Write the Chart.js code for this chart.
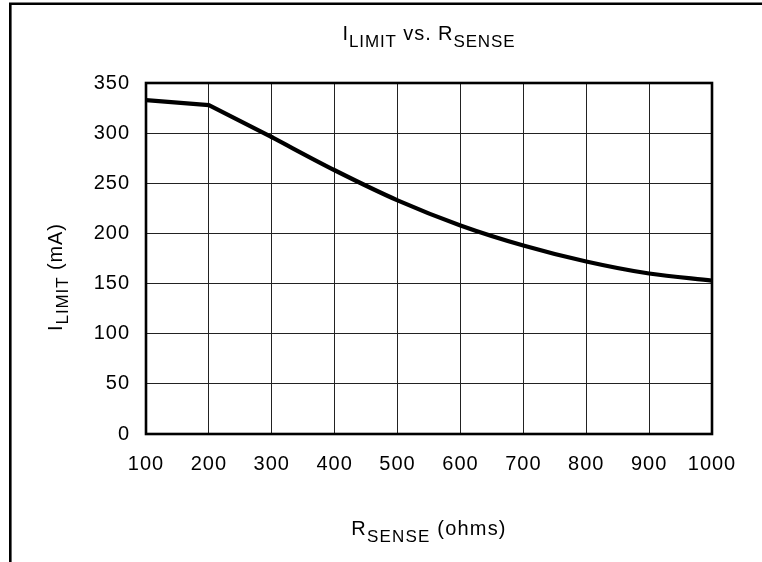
<!DOCTYPE html>
<html><head><meta charset="utf-8">
<script src="https://cdn.jsdelivr.net/npm/chart.js@4.4.1/dist/chart.umd.min.js"></script>
<style>html,body{margin:0;padding:0;background:#fff;}#wrap{width:762px;height:562px;}</style>
</head><body><div id="wrap"><canvas id="c" width="762" height="562"></canvas></div>
<script>
const rSense = [100, 200, 300, 400, 500, 600, 700, 800, 900, 1000];
const iLimit = [333, 328, 296, 263, 233, 208, 188, 172, 160, 153];
const xTicks = [100, 200, 300, 400, 500, 600, 700, 800, 900, 1000];
const yTicks = [0, 50, 100, 150, 200, 250, 300, 350];
const titleParts = [["I", false], ["LIMIT", true], [" vs. R", false], ["SENSE", true]];
const xTitleParts = [["R", false], ["SENSE", true], [" (ohms)", false]];
const yTitleParts = [["I", false], ["LIMIT", true], [" (mA)", false]];

const FF = "'Liberation Sans', Arial, Helvetica, sans-serif";

function drawParts(ctx, parts, cx, cy, size, subSize, subDy, spacing) {
  ctx.save();
  ctx.letterSpacing = spacing + 'px';
  ctx.textBaseline = 'alphabetic';
  ctx.textAlign = 'left';
  ctx.fillStyle = '#000';
  const widths = parts.map(([t, s]) => { ctx.font = (s ? subSize : size) + 'px ' + FF; return ctx.measureText(t).width; });
  const total = widths.reduce((a, b) => a + b, 0);
  let x = cx - total / 2;
  parts.forEach(([t, s], i) => {
    ctx.font = (s ? subSize : size) + 'px ' + FF;
    ctx.fillText(t, x, cy + (s ? subDy : 0));
    x += widths[i];
  });
  ctx.restore();
}

const decor = {
  id: 'decor',
  beforeDraw(chart) {
    const ctx = chart.ctx;
    ctx.save();
    ctx.fillStyle = '#fff';
    ctx.fillRect(0, 0, chart.width, chart.height);
    ctx.strokeStyle = '#000';
    ctx.lineWidth = 2.6;
    ctx.beginPath();
    ctx.moveTo(9, 3.8); ctx.lineTo(762, 3.8);
    ctx.moveTo(10.3, 2.5); ctx.lineTo(10.3, 562);
    ctx.stroke();
    ctx.restore();
    ctx.letterSpacing = '1px';
  },
  beforeDatasetsDraw(chart) {
    chart.ctx.letterSpacing = '0px';
    const a = chart.chartArea, ctx = chart.ctx;
    ctx.save();
    ctx.strokeStyle = '#000';
    ctx.lineWidth = 2.6;
    ctx.strokeRect(a.left, a.top, a.right - a.left, a.bottom - a.top);
    ctx.restore();
  },
  afterDraw(chart) {
    const ctx = chart.ctx, a = chart.chartArea;
    const cx = (a.left + a.right) / 2;
    drawParts(ctx, titleParts, cx, 40, 20, 17, 6.5, 0.9);
    drawParts(ctx, xTitleParts, cx, 535, 20, 17, 6.5, 1.2);
    ctx.save();
    ctx.translate(61.5, 277);
    ctx.rotate(-Math.PI / 2);
    drawParts(ctx, yTitleParts, 0, 0, 20, 17, 6.5, 0.9);
    ctx.restore();
  }
};

const pts = rSense.map((x, i) => ({ x: x, y: iLimit[i] }));
const lineStyle = { borderColor: '#000', borderWidth: 4.2, pointRadius: 0, fill: false, borderCapStyle: 'round', borderJoinStyle: 'round' };

new Chart(document.getElementById('c'), {
  type: 'line',
  data: {
    datasets: [
      Object.assign({ data: pts.slice(0, 3), tension: 0 }, lineStyle),
      Object.assign({ data: pts.slice(2), cubicInterpolationMode: 'monotone' }, lineStyle)
    ]
  },
  options: {
    responsive: false,
    animation: false,
    layout: { padding: { top: 83, right: 50, left: 0, bottom: 0 } },
    plugins: { legend: { display: false }, title: { display: false }, tooltip: { enabled: false } },
    scales: {
      x: {
        type: 'linear', min: 100, max: 1000,
        afterBuildTicks: s => { s.ticks = xTicks.map(v => ({ value: v })); },
        afterFit: s => { s.height = 128; },
        grid: { color: '#222', lineWidth: 1, drawTicks: false },
        border: { display: false },
        ticks: { color: '#000', font: { family: FF, size: 20 }, padding: 18, maxRotation: 0, autoSkip: false, callback: v => String(v) }
      },
      y: {
        type: 'linear', min: 0, max: 350,
        afterBuildTicks: s => { s.ticks = yTicks.map(v => ({ value: v })); },
        afterFit: s => { s.width = 146; },
        grid: { color: '#222', lineWidth: 1, drawTicks: false },
        border: { display: false },
        ticks: { color: '#000', font: { family: FF, size: 20 }, padding: 16, autoSkip: false, callback: v => String(v) }
      }
    }
  },
  plugins: [decor]
});
</script></body></html>
